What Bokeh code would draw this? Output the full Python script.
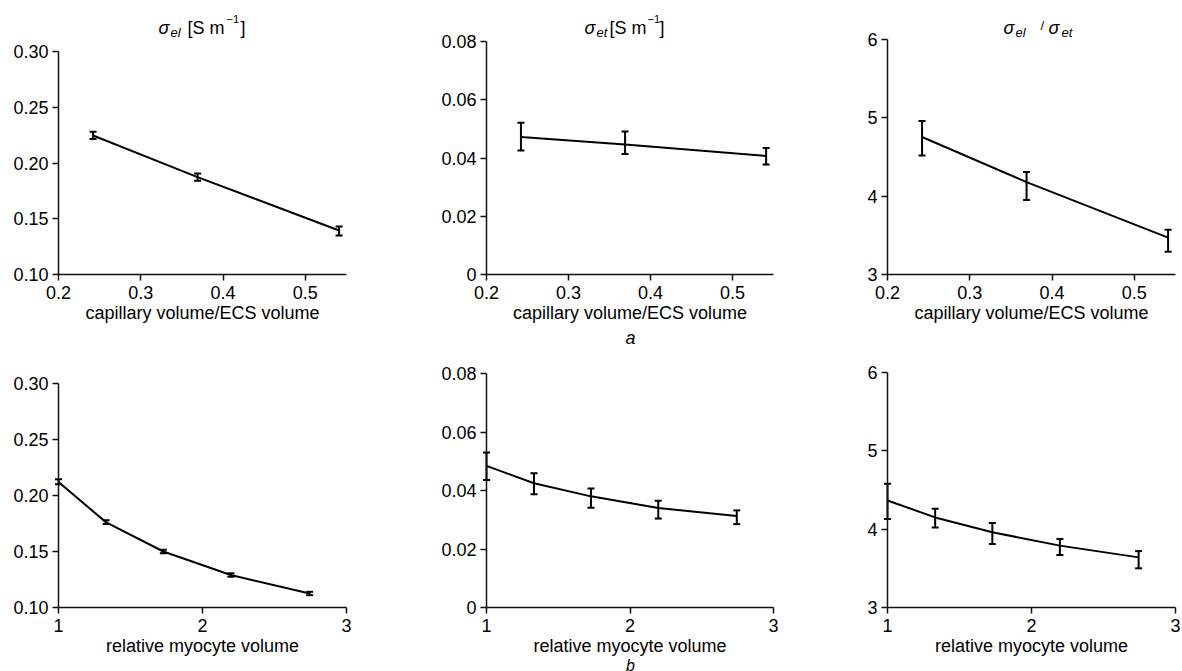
from bokeh.plotting import figure
from bokeh.layouts import row, column
from bokeh.models import ColumnDataSource, Whisker, TeeHead, FixedTicker, Label, Range1d
from bokeh.embed import file_html
from bokeh.resources import INLINE

# ---------------- data ----------------
cap_ratio = [0.242, 0.369, 0.541]            # capillary volume / ECS volume
myo_vol = [1.0, 1.331, 1.728, 2.197, 2.744]  # relative myocyte volume

sig_el_cap = [0.2247, 0.1873, 0.1395]
sig_el_cap_lo = [0.2215, 0.1840, 0.1350]
sig_el_cap_hi = [0.2280, 0.1905, 0.1430]

sig_et_cap = [0.0472, 0.0446, 0.0407]
sig_et_cap_lo = [0.0426, 0.0414, 0.0378]
sig_et_cap_hi = [0.0521, 0.0491, 0.0434]

ratio_cap = [4.755, 4.18, 3.47]
ratio_cap_lo = [4.52, 3.95, 3.29]
ratio_cap_hi = [4.96, 4.31, 3.57]

sig_el_myo = [0.212, 0.176, 0.150, 0.129, 0.1125]
sig_el_myo_lo = [0.2100, 0.1745, 0.1485, 0.1275, 0.1110]
sig_el_myo_hi = [0.2145, 0.1780, 0.1515, 0.1305, 0.1140]

sig_et_myo = [0.0484, 0.0425, 0.0380, 0.0340, 0.0313]
sig_et_myo_lo = [0.0436, 0.0387, 0.0341, 0.0304, 0.0285]
sig_et_myo_hi = [0.0530, 0.0459, 0.0407, 0.0365, 0.0332]

ratio_myo = [4.366, 4.15, 3.96, 3.79, 3.64]
ratio_myo_lo = [4.13, 4.02, 3.81, 3.67, 3.50]
ratio_myo_hi = [4.58, 4.26, 4.08, 3.875, 3.72]

x_ticks_cap = [0.2, 0.3, 0.4, 0.5]
x_labels_cap = ["0.2", "0.3", "0.4", "0.5"]
x_axis_cap = (0.2, 0.55)
x_ticks_myo = [1, 2, 3]
x_labels_myo = ["1", "2", "3"]
x_axis_myo = (1, 3)
y_ticks_el = [0.10, 0.15, 0.20, 0.25, 0.30]
y_labels_el = ["0.10", "0.15", "0.20", "0.25", "0.30"]
y_axis_el = (0.10, 0.30)
y_ticks_et = [0, 0.02, 0.04, 0.06, 0.08]
y_labels_et = ["0", "0.02", "0.04", "0.06", "0.08"]
y_axis_et = (0, 0.08)
y_ticks_ratio = [3, 4, 5, 6]
y_labels_ratio = ["3", "4", "5", "6"]
y_axis_ratio = (3, 6)

xlabel_cap = "capillary volume/ECS volume"
xlabel_myo = "relative myocyte volume"

FONT = "Liberation Sans"
FS = "18px"

# ---------------- layout geometry (page pixels) ----------------
COLS = [(0, 398), (398, 800), (800, 1182)]          # figure left/right
ROWS = [(0, 352), (352, 671)]                       # figure top/bottom
X_AXIS_PX = [(58, 346), (486, 773), (887, 1175)]    # axis start/end pixels per column
Y_AXIS_PX = [[(274, 51), (274, 41), (274, 39)],     # axis bottom/top pixels
             [(607, 383), (607, 373), (607, 372)]]


def make_range_x(col, vals):
    L, R = COLS[col]
    a0, a1 = X_AXIS_PX[col]
    s = (vals[1] - vals[0]) / (a1 - a0)
    return Range1d(vals[0] - (a0 - L) * s, vals[1] + (R - a1) * s)


def make_range_y(r, col, vals):
    T, B = ROWS[r]
    b0, b1 = Y_AXIS_PX[r][col]
    s = (vals[1] - vals[0]) / (b0 - b1)
    return Range1d(vals[0] - (B - b0) * s, vals[1] + (b1 - T) * s)


def panel(r, col, x, y, lo, hi, xa, ya, xt, xl, yt, yl, xlabel):
    L, R = COLS[col]
    T, B = ROWS[r]
    p = figure(frame_width=R - L, frame_height=B - T,
               x_range=make_range_x(col, xa), y_range=make_range_y(r, col, ya),
               output_backend="svg", toolbar_location=None,
               min_border=0, min_border_left=0, min_border_right=0,
               min_border_top=0, min_border_bottom=0)
    p.outline_line_color = None
    p.xgrid.visible = False
    p.ygrid.visible = False
    p.background_fill_color = "white"
    p.border_fill_color = "white"
    for ax in (p.xaxis[0], p.yaxis[0]):
        ax.axis_line_width = 1.5
        ax.axis_line_color = "#111111"
        ax.major_tick_line_width = 1.5
        ax.major_tick_line_color = "#111111"
        ax.major_tick_out = 6
        ax.major_tick_in = 0
        ax.minor_tick_out = 0
        ax.minor_tick_in = 0
        ax.major_label_text_font = FONT
        ax.major_label_text_font_size = FS
        ax.major_label_text_color = "black"
        ax.axis_label_text_font = FONT
        ax.axis_label_text_font_size = FS
        ax.axis_label_text_font_style = "normal"
        ax.axis_label_text_color = "black"
    xaxis = p.xaxis[0]
    yaxis = p.yaxis[0]
    xaxis.fixed_location = ya[0]
    xaxis.bounds = xa
    yaxis.fixed_location = xa[0]
    yaxis.bounds = ya
    xaxis.ticker = FixedTicker(ticks=xt)
    xaxis.major_label_overrides = {t: s for t, s in zip(xt, xl)}
    yaxis.ticker = FixedTicker(ticks=yt)
    yaxis.major_label_overrides = {t: s for t, s in zip(yt, yl)}
    xaxis.major_label_standoff = 5
    yaxis.major_label_standoff = 4
    xaxis.axis_label = xlabel
    xaxis.axis_label_standoff = 1

    p.line(x, y, line_width=2, line_color="black")
    src = ColumnDataSource(dict(base=x, lower=lo, upper=hi))
    w = Whisker(source=src, base="base", lower="lower", upper="upper", dimension="height",
                line_width=2, line_color="black",
                upper_head=TeeHead(size=7, line_width=2, line_color="black"),
                lower_head=TeeHead(size=7, line_width=2, line_color="black"))
    p.add_layout(w)
    return p


def add_text(p, r, col, pieces, align="left"):
    # pieces: (text, page_x, page_baseline_y, size, style)
    L = COLS[col][0]
    B = ROWS[r][1]
    for txt, x, yb, size, style in pieces:
        p.add_layout(Label(x=x - L, y=B - yb, x_units="screen", y_units="screen",
                           text=txt, text_font=FONT, text_font_size=size, text_font_style=style,
                           text_color="black", text_align=align, text_baseline="alphabetic"))


p1 = panel(0, 0, cap_ratio, sig_el_cap, sig_el_cap_lo, sig_el_cap_hi, x_axis_cap, y_axis_el,
           x_ticks_cap, x_labels_cap, y_ticks_el, y_labels_el, xlabel_cap)
p2 = panel(0, 1, cap_ratio, sig_et_cap, sig_et_cap_lo, sig_et_cap_hi, x_axis_cap, y_axis_et,
           x_ticks_cap, x_labels_cap, y_ticks_et, y_labels_et, xlabel_cap)
p3 = panel(0, 2, cap_ratio, ratio_cap, ratio_cap_lo, ratio_cap_hi, x_axis_cap, y_axis_ratio,
           x_ticks_cap, x_labels_cap, y_ticks_ratio, y_labels_ratio, xlabel_cap)
p4 = panel(1, 0, myo_vol, sig_el_myo, sig_el_myo_lo, sig_el_myo_hi, x_axis_myo, y_axis_el,
           x_ticks_myo, x_labels_myo, y_ticks_el, y_labels_el, xlabel_myo)
p5 = panel(1, 1, myo_vol, sig_et_myo, sig_et_myo_lo, sig_et_myo_hi, x_axis_myo, y_axis_et,
           x_ticks_myo, x_labels_myo, y_ticks_et, y_labels_et, xlabel_myo)
p6 = panel(1, 2, myo_vol, ratio_myo, ratio_myo_lo, ratio_myo_hi, x_axis_myo, y_axis_ratio,
           x_ticks_myo, x_labels_myo, y_ticks_ratio, y_labels_ratio, xlabel_myo)

# column titles
add_text(p1, 0, 0, [
    ("σ", 158, 27, "18px", "italic"),
    ("el", 170, 32, "13px", "italic"),
    ("[S m", 187, 27, "18px", "normal"),
    ("−1", 226, 18, "11px", "normal"),
    ("]", 240, 27, "18px", "normal"),
])
add_text(p2, 0, 1, [
    ("σ", 584, 27, "18px", "italic"),
    ("et", 596, 32, "13px", "italic"),
    ("[S m", 609, 27, "18px", "normal"),
    ("−1", 647, 18, "11px", "normal"),
    ("]", 659, 27, "18px", "normal"),
])
add_text(p3, 0, 2, [
    ("σ", 1003, 27, "18px", "italic"),
    ("el", 1015, 32, "13px", "italic"),
    ("/", 1040, 25, "13px", "normal"),
    ("σ", 1048, 27, "18px", "italic"),
    ("et", 1061, 32, "13px", "italic"),
])
# sub-figure letters
add_text(p2, 0, 1, [("a", 630, 337, "18px", "italic")], align="center")
add_text(p5, 1, 1, [("b", 630, 665, "16px", "italic")], align="center")

layout = column(row(p1, p2, p3), row(p4, p5, p6))
open("out.html", "w").write(file_html(layout, INLINE))
